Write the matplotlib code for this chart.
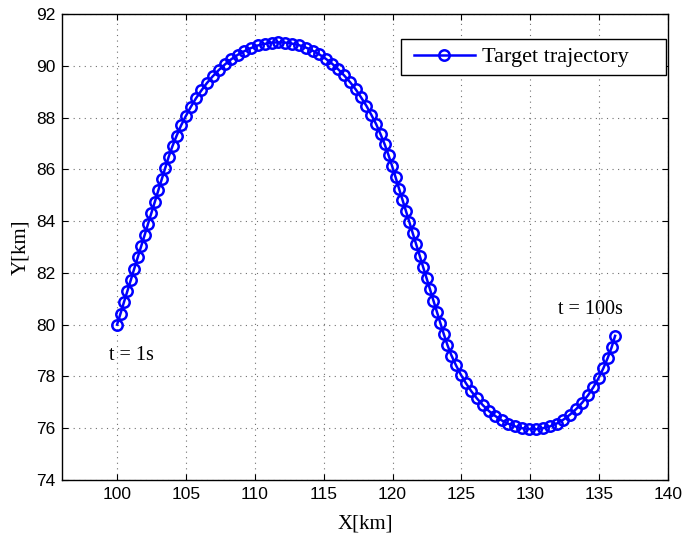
import numpy as np
import matplotlib
matplotlib.use('Agg')
import matplotlib.pyplot as plt
from matplotlib.patches import Rectangle

# target positions, t = 1..100 s
x_km = [100.00, 100.25, 100.50, 100.75, 101.00, 101.25, 101.50, 101.75, 102.00, 102.25,
        102.50, 102.75, 103.00, 103.25, 103.50, 103.75, 104.03, 104.33, 104.65, 104.99,
        105.35, 105.72, 106.12, 106.53, 106.95, 107.39, 107.84, 108.30, 108.77, 109.25,
        109.73, 110.22, 110.72, 111.22, 111.71, 112.22, 112.71, 113.21, 113.70, 114.19,
        114.67, 115.14, 115.60, 116.05, 116.49, 116.92, 117.33, 117.72, 118.10, 118.46,
        118.81, 119.13, 119.43, 119.71, 119.97, 120.22, 120.47, 120.72, 120.97, 121.22,
        121.47, 121.72, 121.97, 122.22, 122.47, 122.72, 122.97, 123.22, 123.47, 123.72,
        123.99, 124.28, 124.61, 124.96, 125.33, 125.72, 126.13, 126.56, 127.01, 127.47,
        127.94, 128.42, 128.91, 129.40, 129.90, 130.41, 130.92, 131.42, 131.91, 132.40,
        132.87, 133.33, 133.77, 134.19, 134.59, 134.96, 135.30, 135.62, 135.91, 136.16]

y_km = [80.00, 80.43, 80.87, 81.30, 81.73, 82.17, 82.60, 83.03, 83.46, 83.90,
        84.33, 84.76, 85.20, 85.63, 86.06, 86.49, 86.91, 87.31, 87.70, 88.06,
        88.41, 88.74, 89.05, 89.34, 89.60, 89.84, 90.06, 90.26, 90.43, 90.57,
        90.69, 90.79, 90.85, 90.90, 90.91, 90.90, 90.86, 90.80, 90.71, 90.59,
        90.45, 90.28, 90.09, 89.87, 89.63, 89.37, 89.09, 88.78, 88.46, 88.11,
        87.75, 87.36, 86.97, 86.55, 86.13, 85.70, 85.26, 84.83, 84.40, 83.97,
        83.53, 83.10, 82.67, 82.23, 81.80, 81.37, 80.93, 80.50, 80.07, 79.64,
        79.21, 78.81, 78.43, 78.07, 77.74, 77.43, 77.15, 76.89, 76.66, 76.47,
        76.30, 76.17, 76.07, 76.00, 75.97, 75.96, 76.00, 76.07, 76.18, 76.33,
        76.52, 76.74, 76.99, 77.27, 77.59, 77.94, 78.31, 78.71, 79.13, 79.57]

x_ticks = [100, 105, 110, 115, 120, 125, 130, 135, 140]
y_ticks = [74, 76, 78, 80, 82, 84, 86, 88, 90, 92]

serif = ['Liberation Serif', 'DejaVu Serif']
sans = ['Liberation Sans', 'DejaVu Sans']

fig = plt.figure(figsize=(6.84, 5.43), dpi=100)
ax = fig.add_axes([0.0906, 0.116, 0.886, 0.858])

ax.plot(x_km, y_km, '-o', color=(0, 0, 1), lw=1.8, ms=7.5, mew=1.8,
        mfc='none', label='Target trajectory')

ax.set_xlim(96, 140)
ax.set_ylim(74, 92)
ax.set_xticks(x_ticks)
ax.set_yticks(y_ticks)
ax.tick_params(direction='in', top=True, right=True, length=4, width=0.8,
               labelsize=12.5, pad=5)
for lab in ax.get_xticklabels() + ax.get_yticklabels():
    lab.set_family(sans)
ax.grid(True, linestyle=(0, (1, 4)), color='#707070', linewidth=0.8)
for sp in ax.spines.values():
    sp.set_linewidth(1.0)

ax.set_xlabel('X[km]', family=serif, fontsize=15, labelpad=9)
ax.set_ylabel('Y[km]', family=serif, fontsize=15, labelpad=4)

ax.text(99.4, 78.8, 't = 1s', family=serif, fontsize=14.5, va='center')
ax.text(132.0, 80.6, 't = 100s', family=serif, fontsize=14.5, va='center')

# MATLAB style legend box, wider than the entry itself
box_x0, box_x1 = 0.5594, 0.9967
box_y0, box_y1 = 0.8691, 0.9464
ax.add_patch(Rectangle((box_x0, box_y0), box_x1 - box_x0, box_y1 - box_y0,
                       transform=ax.transAxes, facecolor='white',
                       edgecolor='black', linewidth=1.0, zorder=4.5))
leg = ax.legend(loc='center left', bbox_to_anchor=(box_x0, (box_y0 + box_y1) / 2),
                borderaxespad=0, prop={'family': serif, 'size': 16},
                frameon=False, handlelength=2.75, handletextpad=0.3,
                borderpad=0.58)
leg.set_zorder(5)

fig.savefig('out.png', dpi=100)
